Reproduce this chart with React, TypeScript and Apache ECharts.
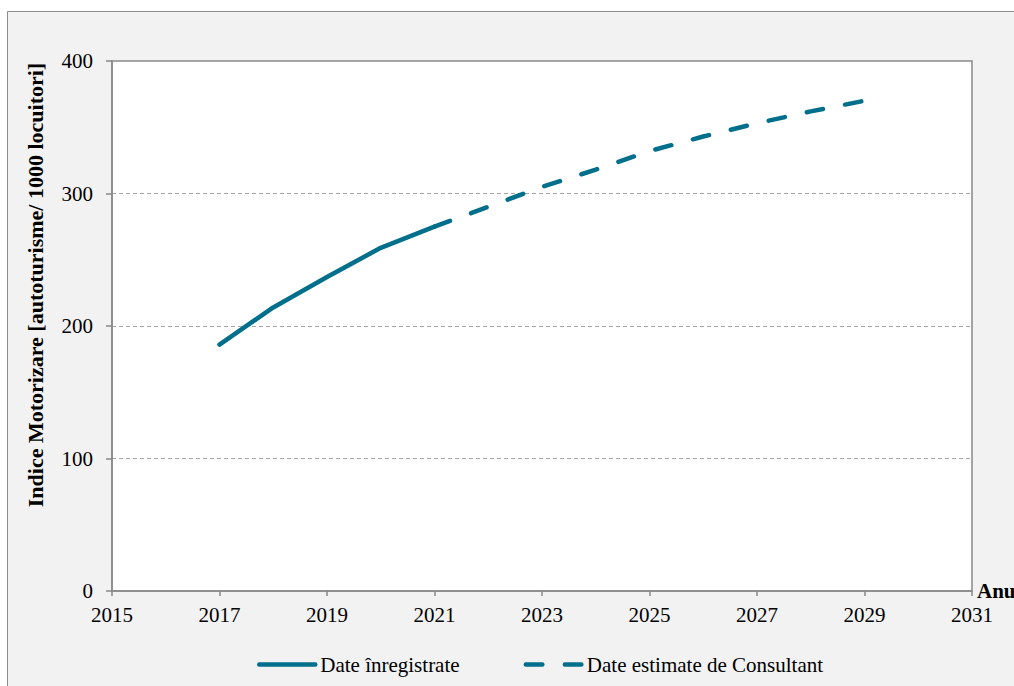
import React, { useEffect, useRef } from "react";
import * as echarts from "echarts";

const recordedYears = [2017, 2018, 2019, 2020, 2021];
const recordedValues = [186, 214, 237, 259, 275];
const estimatedYears = [2021, 2022, 2023, 2024, 2025, 2026, 2027, 2028, 2029];
const estimatedValues = [275, 290, 305, 318, 332, 343, 353, 362, 370];
const seriesNames = ["Date înregistrate", "Date estimate de Consultant"];
const yAxisTitle = "Indice Motorizare [autoturisme/ 1000 locuitori]";
const xAxisTitle = "Anul";

const FONT = "'Liberation Serif', 'Times New Roman', serif";
const LINE_COLOR = "#006f8c";
const DASH = [16.5, 22.5];

export default function App() {
  const ref = useRef<HTMLDivElement>(null);
  useEffect(() => {
    if (!ref.current) return;
    const chart = echarts.init(ref.current, null, { renderer: "svg" });
    chart.setOption({
      animation: false,
      backgroundColor: "#ffffff",
      textStyle: { fontFamily: FONT },
      graphic: [
        {
          type: "rect",
          z: -10,
          silent: true,
          shape: { x: 7.5, y: 11.5, width: 1100, height: 700 },
          style: { fill: "#f2f2f2", stroke: "#8c8c8c", lineWidth: 1 },
        },
      ],
      grid: {
        left: 112,
        top: 61,
        width: 860,
        height: 530,
        show: true,
        containLabel: false,
        outerBoundsMode: "none",
        backgroundColor: "#ffffff",
        borderColor: "#898989",
        borderWidth: 1.5,
      } as any,
      legend: {
        left: 257,
        top: 654,
        padding: 0,
        itemWidth: 56,
        itemHeight: 14,
        itemGap: 64,
        itemTextGap: 5,
        itemStyle: { opacity: 0 },
        textStyle: { fontFamily: FONT, fontSize: 21, color: "#000" },
        data: [
          {
            name: seriesNames[0],
            lineStyle: { width: 4.5, type: "solid", cap: "round", color: LINE_COLOR },
          },
          {
            name: seriesNames[1],
            lineStyle: { width: 4.5, type: DASH, cap: "round", color: LINE_COLOR },
          },
        ],
      } as any,
      xAxis: {
        type: "value",
        min: 2015,
        max: 2031,
        interval: 2,
        name: xAxisTitle,
        nameLocation: "end",
        nameGap: 5,
        nameTextStyle: {
          fontFamily: FONT,
          fontSize: 21,
          fontWeight: "bold",
          color: "#000",
          align: "left",
          verticalAlign: "middle",
          padding: [0, 0, 22, 0],
        },
        axisLine: { show: true, lineStyle: { color: "#898989", width: 1.5 } },
        axisTick: { show: true, inside: false, length: 5, lineStyle: { color: "#898989", width: 1.5 } },
        axisLabel: {
          margin: 13,
          fontFamily: FONT,
          fontSize: 21,
          color: "#000",
          formatter: (v: number) => String(v),
        },
        splitLine: { show: false },
      },
      yAxis: {
        type: "value",
        min: 0,
        max: 400,
        interval: 100,
        name: yAxisTitle,
        nameLocation: "middle",
        nameRotate: 90,
        nameGap: 66,
        nameTextStyle: {
          fontFamily: FONT,
          fontSize: 22,
          fontWeight: "bold",
          color: "#000",
          padding: [0, 0, 0, 82],
        },
        axisLine: { show: true, lineStyle: { color: "#898989", width: 1.5 } },
        axisTick: { show: true, inside: false, length: 6, lineStyle: { color: "#898989", width: 1.5 } },
        axisLabel: { margin: 19, fontFamily: FONT, fontSize: 21, color: "#000" },
        splitLine: { show: true, lineStyle: { color: "#a6a6a6", width: 1, type: [4, 3] } },
      },
      series: [
        {
          name: seriesNames[0],
          type: "line",
          symbol: "none",
          data: recordedYears.map((y, i) => [y, recordedValues[i]]),
          lineStyle: { color: LINE_COLOR, width: 4.5, type: "solid", cap: "round", join: "round" },
          itemStyle: { color: LINE_COLOR },
        },
        {
          name: seriesNames[1],
          type: "line",
          symbol: "none",
          data: estimatedYears.map((y, i) => [y, estimatedValues[i]]),
          lineStyle: { color: LINE_COLOR, width: 4.5, type: DASH, cap: "round", join: "round" },
          itemStyle: { color: LINE_COLOR },
        },
      ],
    });
    return () => chart.dispose();
  }, []);
  return (
    <div
      ref={ref}
      style={{ position: "fixed", left: 0, top: 0, width: 1014, height: 686 }}
    />
  );
}
